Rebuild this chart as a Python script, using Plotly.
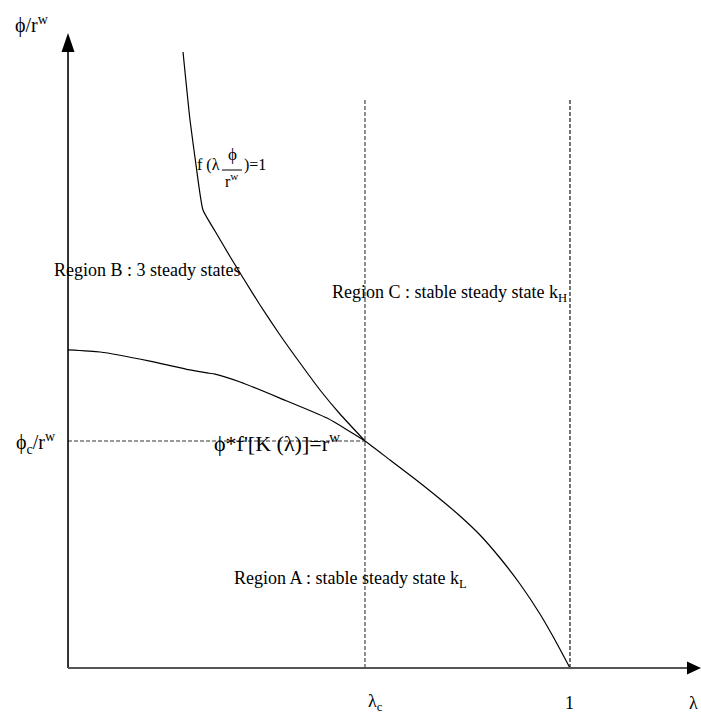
import plotly.graph_objects as go

# Lower locus: phi * f'[K(lambda)] = r^w
lam_low = [0.0, 0.064, 0.163, 0.243, 0.277, 0.293, 0.343, 0.422, 0.516, 0.5916,
           0.6414, 0.6912, 0.7410, 0.7809, 0.8207, 0.8606, 0.9004, 0.9402, 0.9701, 1.0]
phi_low = [1.401, 1.392, 1.352, 1.313, 1.300, 1.295, 1.260, 1.189, 1.101, 1.0,
           0.9163, 0.8326, 0.7445, 0.6696, 0.5859, 0.4846, 0.3700, 0.2379, 0.1233, 0.0]

# Upper locus: f(lambda * phi / r^w) = 1
lam_up = [0.2291, 0.2430, 0.2550, 0.2689, 0.2928, 0.3227, 0.3526, 0.3825,
          0.4223, 0.4622, 0.5020, 0.5418, 0.5916]
phi_up = [2.7137, 2.4141, 2.2159, 2.0176, 1.9251, 1.8128, 1.7048, 1.5991,
          1.4670, 1.3436, 1.2247, 1.1189, 1.0]

lam_c = 0.5916      # critical lambda
phi_c = 1.0         # phi_c / r^w
lam_one = 1.0

# plotting window (data units)
X_RANGE = [-0.1355, 1.2610]
Y_RANGE = [-0.2026, 2.9427]
W, H = 701, 714
PX_X = W / (X_RANGE[1] - X_RANGE[0])
PX_Y = H / (Y_RANGE[1] - Y_RANGE[0])

FONT = "Liberation Serif, Times New Roman, serif"
FS = 18

fig = go.Figure()

curve_line = dict(color="black", width=1.2, shape="spline", smoothing=0.5)
fig.add_trace(go.Scatter(x=lam_low, y=phi_low, mode="lines", line=curve_line,
                         hoverinfo="skip", showlegend=False))
fig.add_trace(go.Scatter(x=lam_up, y=phi_up, mode="lines", line=curve_line,
                         hoverinfo="skip", showlegend=False))

shapes = []
top_dash = 2.5066
dash = dict(color="#333", width=1.1, dash="4px,2px")
shapes.append(dict(type="line", x0=lam_c, x1=lam_c, y0=0, y1=top_dash, line=dash))
shapes.append(dict(type="line", x0=lam_one, x1=lam_one, y0=0, y1=top_dash,
                   line=dict(color="black", width=1.1, dash="4px,2px")))
shapes.append(dict(type="line", x0=0, x1=lam_c, y0=phi_c, y1=phi_c, line=dash))

# axes with arrowheads
y_top = 2.7137
x_end = 1.2331
shapes.append(dict(type="line", x0=0, x1=0, y0=0, y1=y_top, line=dict(color="black", width=1.6)))
shapes.append(dict(type="line", x0=0, x1=x_end, y0=0, y1=0, line=dict(color="#555", width=2)))
hw = 6.5 / PX_X
tip = y_top + 19 / PX_Y
shapes.append(dict(type="path",
                   path=f"M {-hw} {y_top} L {hw} {y_top} L 0 {tip} Z",
                   fillcolor="black", line=dict(color="black", width=0)))
hh = 6.5 / PX_Y
xtip = x_end + 14 / PX_X
shapes.append(dict(type="path",
                   path=f"M {x_end} {-hh} L {x_end} {hh} L {xtip} 0 Z",
                   fillcolor="black", line=dict(color="black", width=0)))

# fraction bar of f(lambda phi / r^w) = 1
shapes.append(dict(type="line", x0=0.3068, x1=0.3466, y0=2.1938, y1=2.1938,
                   line=dict(color="black", width=1)))

fig.update_layout(shapes=shapes)

def label(x, y, text, anchor="center", size=FS):
    fig.add_annotation(x=x, y=y, text=text, showarrow=False, xanchor=anchor,
                       yanchor="middle", font=dict(family=FONT, size=size, color="black"))

label(-0.0717, 2.835, "ϕ/r<sup>w</sup>", size=20)
label(-0.0199, 0.991, "ϕ<sub>c</sub>/r<sup>w</sup>", anchor="right", size=20)
label(-0.0319, 1.753, "Region B : 3 steady states", anchor="left")
label(0.5219, 1.652, "Region C : stable steady state k<sub>H</sub>", anchor="left")
label(0.2869, 0.995, "ϕ*f'[K (λ)]=r<sup>w</sup>", anchor="left", size=22)
label(0.3267, 0.388, "Region A : stable steady state k<sub>L</sub>", anchor="left")
label(0.6116, -0.154, "λ<sub>c</sub>")
label(lam_one, -0.154, "1")
label(1.247, -0.154, "λ")

# f(lambda phi / r^w) = 1 drawn as a stacked fraction
label(0.3068, 2.2159, "f (λ", anchor="right", size=16)
label(0.3267, 2.262, "ϕ", size=17)
label(0.3267, 2.150, "r<sup>w</sup>", size=16)
label(0.3466, 2.2159, ")=1", anchor="left", size=16)

fig.update_layout(
    width=W, height=H,
    margin=dict(l=0, r=0, t=0, b=0),
    paper_bgcolor="white", plot_bgcolor="white",
    xaxis=dict(range=X_RANGE, visible=False, fixedrange=True),
    yaxis=dict(range=Y_RANGE, visible=False, fixedrange=True),
    showlegend=False,
)

fig.write_html("out.html")
